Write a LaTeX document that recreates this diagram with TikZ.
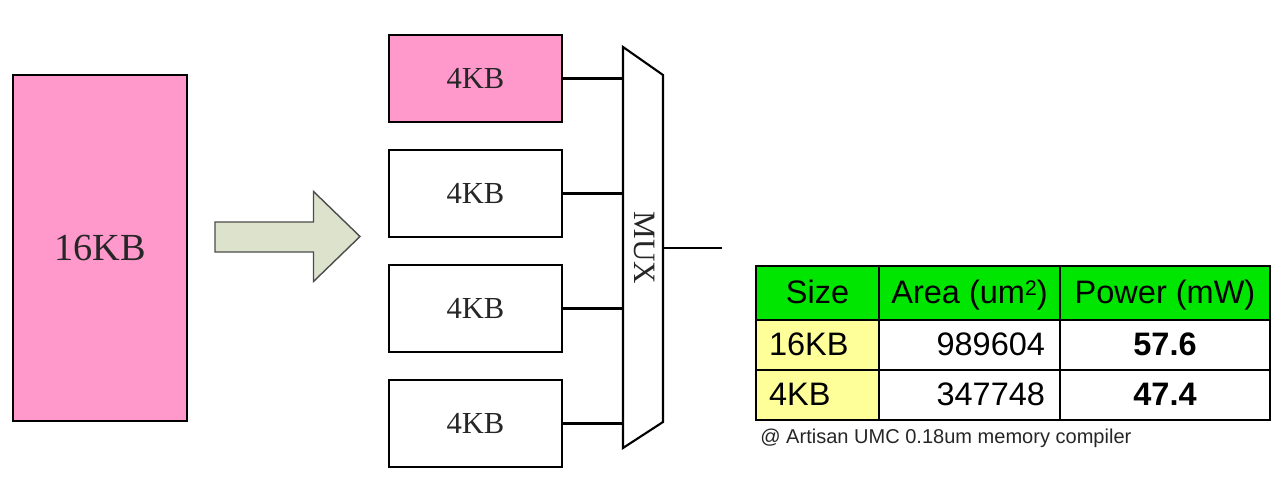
\documentclass[tikz,border=0pt]{standalone}
\usepackage{fontspec}
\setmainfont{Liberation Serif}
\setsansfont{Liberation Sans}
\definecolor{memPink}{RGB}{255,153,204}
\definecolor{arrowFill}{RGB}{221,226,204}
\definecolor{headGreen}{RGB}{0,230,0}
\definecolor{sizeYellow}{RGB}{255,255,153}
\newcommand{\smallsup}[1]{{\fontsize{12}{12}\selectfont\raisebox{0.75ex}{#1}}}
\begin{document}
\begin{tikzpicture}[
    mem/.style={rectangle, draw, line width=1.2pt, minimum width=3.46cm, minimum height=1.74cm, inner sep=0pt, text=black!85, font=\fontsize{17.4}{20}\selectfont},
    bigmem/.style={mem, minimum width=3.48cm, minimum height=6.92cm, font=\fontsize{21.8}{24}\selectfont},
    wire/.style={line width=1.2pt},
    cell/.style={rectangle, draw, line width=1.2pt, minimum height=1cm, inner sep=0pt, text height=16pt, text depth=3.5pt, font=\sffamily\fontsize{18.5}{20}\selectfont},
    head/.style={cell, fill=headGreen, minimum height=1.08cm},
    sizecell/.style={cell, fill=sizeYellow, text width=1.94cm, inner xsep=0.26cm, align=left},
    areacell/.style={cell, text width=3.02cm, inner xsep=0.30cm, align=right},
    powercell/.style={cell, minimum width=4.20cm, font=\sffamily\bfseries\fontsize{18.5}{20}\selectfont}
]

\useasboundingbox (0,0) rectangle (25.64,9.74);

% Original 16KB memory
\node[bigmem, fill=memPink] (big) at (2.00,4.78) {16KB};

% Split arrow
\draw[line width=0.8pt, draw=black!70, fill=arrowFill] (4.30,5.30) -- (6.27,5.30) -- (6.27,5.91) -- (7.20,5.01) -- (6.27,4.11) -- (6.27,4.70) -- (4.30,4.70) -- cycle;

% Four 4KB banks
\node[mem, fill=memPink] (bank1) at (9.51,8.17) {4KB};
\node[mem] (bank2) at (9.51,5.87) {4KB};
\node[mem] (bank3) at (9.51,3.57) {4KB};
\node[mem] (bank4) at (9.51,1.27) {4KB};

% MUX
\coordinate (mux_nw) at (12.46,8.80);
\coordinate (mux_ne) at (13.26,8.24);
\coordinate (mux_se) at (13.26,1.30);
\coordinate (mux_sw) at (12.46,0.78);
\coordinate (mux_out) at (13.26,4.78);
\coordinate (out_end) at (14.44,4.78);
\draw[wire] (mux_nw) -- (mux_ne) -- (mux_se) -- (mux_sw) -- cycle;
\node[rotate=-90, text=black!85, font=\fontsize{17.7}{20}\selectfont] (mux_label) at (12.90,4.78) {MUX};

% Banks to MUX
\foreach \b in {bank1,bank2,bank3,bank4}
    \draw[wire] (\b.east) -- (\b.east -| mux_nw);
\draw[wire] (mux_out) -- (out_end);

% Table
\node[head, minimum width=2.46cm] (h_size) at (16.35,3.88) {Size};
\node[head, minimum width=3.62cm] (h_area) at (19.39,3.88) {Area (um\smallsup{2})};
\node[head, minimum width=4.20cm] (h_power) at (23.30,3.88) {Power (mW)};

\node[sizecell] (s16) at (16.35,2.84) {16KB};
\node[areacell] (a16) at (19.39,2.84) {989604};
\node[powercell] (p16) at (23.30,2.84) {57.6};

\node[sizecell] (s4) at (16.35,1.84) {4KB};
\node[areacell] (a4) at (19.39,1.84) {347748};
\node[powercell] (p4) at (23.30,1.84) {47.4};

\node[anchor=west, inner sep=0pt, text=black!85, font=\sffamily\fontsize{11.4}{13}\selectfont] (note) at (15.20,0.98) {@ Artisan UMC 0.18um memory compiler};

\end{tikzpicture}
\end{document}
